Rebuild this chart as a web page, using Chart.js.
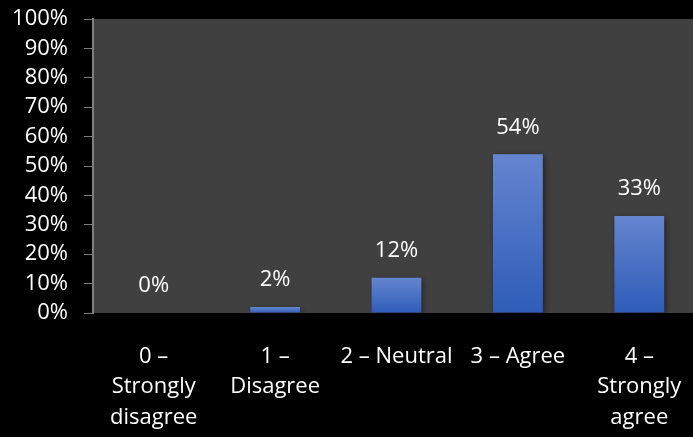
<!DOCTYPE html>
<html>
<head>
<meta charset="utf-8">
<script src="https://cdn.jsdelivr.net/npm/chart.js@4/dist/chart.umd.min.js"></script>
<style>
  html, body { margin: 0; padding: 0; background: #000; overflow: hidden; }
  #wrap { width: 700px; height: 437px; }
</style>
</head>
<body>
<div id="wrap"><canvas id="likertChart"></canvas></div>
<script>
const categories = [
    ['0 –', 'Strongly', 'disagree'],
    ['1 –', 'Disagree'],
    '2 – Neutral',
    '3 – Agree',
    ['4 –', 'Strongly', 'agree']
];
const percents = [0, 2, 12, 54, 33];
const yTicks = [0, 10, 20, 30, 40, 50, 60, 70, 80, 90, 100];

const FONT = "'Open Sans', sans-serif";
const FSIZE = 22;

// dark grey plot area behind the bars
const plotBg = {
    id: 'plotBg',
    beforeDraw(chart) {
        const a = chart.chartArea;
        const ctx = chart.ctx;
        ctx.save();
        ctx.fillStyle = '#404040';
        ctx.fillRect(a.left, a.top, a.right - a.left, a.bottom - a.top);
        ctx.restore();
    }
};

// soft shadow on bars
const barShadow = {
    id: 'barShadow',
    beforeDatasetDraw(chart) {
        const ctx = chart.ctx;
        ctx.save();
        ctx.shadowColor = 'rgba(0,0,0,0.45)';
        ctx.shadowBlur = 6;
        ctx.shadowOffsetX = 2;
        ctx.shadowOffsetY = 2;
    },
    afterDatasetDraw(chart) {
        chart.ctx.restore();
    }
};

// value labels above each bar
const valueLabels = {
    id: 'valueLabels',
    afterDatasetsDraw(chart) {
        const ctx = chart.ctx;
        const meta = chart.getDatasetMeta(0);
        ctx.save();
        ctx.fillStyle = '#ffffff';
        ctx.font = FSIZE + 'px ' + FONT;
        ctx.textAlign = 'center';
        ctx.textBaseline = 'middle';
        meta.data.forEach((bar, i) => {
            ctx.fillText(percents[i] + '%', bar.x, bar.y - 27);
        });
        ctx.restore();
    }
};

function barGradient(context) {
    const chart = context.chart;
    if (!chart.chartArea) return '#4472C4';
    const y = chart.scales.y;
    const top = y.getPixelForValue(context.raw);
    const base = y.getPixelForValue(0);
    if (base - top < 1) return '#4472C4';
    const g = chart.ctx.createLinearGradient(0, top, 0, base);
    g.addColorStop(0, '#6585D0');
    g.addColorStop(1, '#2E5CB8');
    return g;
}

new Chart(document.getElementById('likertChart'), {
    type: 'bar',
    data: {
        labels: categories,
        datasets: [{
            data: percents,
            backgroundColor: barGradient,
            borderWidth: 0,
            categoryPercentage: 1,
            barPercentage: 0.41
        }]
    },
    plugins: [plotBg, barShadow, valueLabels],
    options: {
        responsive: true,
        maintainAspectRatio: false,
        animation: false,
        layout: { padding: { top: 19, left: 0, right: 0, bottom: 0 } },
        plugins: {
            legend: { display: false },
            tooltip: { enabled: false }
        },
        scales: {
            x: {
                grid: { display: false },
                border: { display: false },
                ticks: {
                    color: '#ffffff',
                    font: { family: FONT, size: FSIZE, lineHeight: 1.4 },
                    padding: 20,
                    maxRotation: 0,
                    autoSkip: false
                },
                afterFit(scale) {
                    scale.height = 124;
                    scale.paddingLeft = 0;
                    scale.paddingRight = 0;
                }
            },
            y: {
                min: 0,
                max: 100,
                afterBuildTicks(scale) {
                    scale.ticks = yTicks.map(v => ({ value: v }));
                },
                grid: {
                    drawOnChartArea: false,
                    drawTicks: true,
                    tickLength: 9,
                    color: '#7f7f7f'
                },
                border: { display: true, color: '#7f7f7f', width: 2 },
                ticks: {
                    color: '#ffffff',
                    font: { family: FONT, size: FSIZE },
                    padding: 16,
                    autoSkip: false,
                    callback: v => v + '%'
                },
                afterFit(scale) {
                    scale.width = 93;
                    scale.paddingTop = 0;
                    scale.paddingBottom = 0;
                }
            }
        }
    }
});
</script>
</body>
</html>
